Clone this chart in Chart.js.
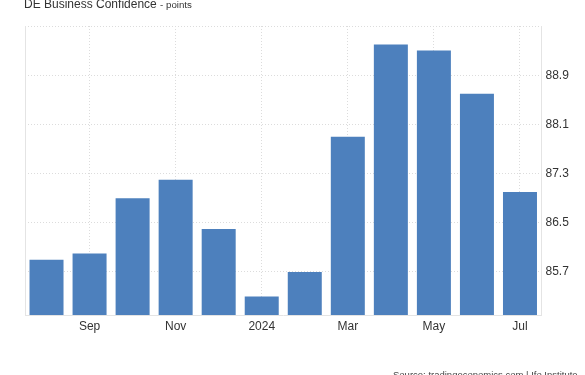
<!DOCTYPE html>
<html>
<head>
<meta charset="utf-8">
<script src="https://cdn.jsdelivr.net/npm/chart.js@4/dist/chart.umd.min.js"></script>
<style>
    html, body { margin: 0; padding: 0; background: #fff; }
    #wrap { position: relative; width: 585px; height: 375px; overflow: hidden; }
    #title {
        position: absolute; left: 24px; top: -3px;
        font-family: "Liberation Sans", Arial, sans-serif;
        font-size: 12px; line-height: 14px; color: #333; white-space: nowrap;
    }
    #title small { font-size: 9.7px; }
    #source {
        position: absolute; left: 393px; top: 369px;
        font-family: "Liberation Sans", Arial, sans-serif;
        font-size: 9.5px; line-height: 11px; color: #444; white-space: nowrap;
    }
    canvas { position: absolute; left: 0; top: 0; }
</style>
</head>
<body>
<div id="wrap">
    <canvas id="chart" width="585" height="375"></canvas>
    <div id="title">DE Business Confidence <small>- points</small></div>
    <div id="source">Source: tradingeconomics.com | Ifo Institute</div>
</div>
<script>
// Monthly readings, Aug 2023 - Jul 2024
const months = ['Aug', 'Sep', 'Oct', 'Nov', 'Dec', 'Jan', 'Feb', 'Mar', 'Apr', 'May', 'Jun', 'Jul'];
const xTickLabels = ['', 'Sep', '', 'Nov', '', '2024', '', 'Mar', '', 'May', '', 'Jul'];
const confidence = [85.9, 86.0, 86.9, 87.2, 86.4, 85.3, 85.7, 87.9, 89.4, 89.3, 88.6, 87.0];
const yTicks = [85.7, 86.5, 87.3, 88.1, 88.9];
const yMin = 85.0;
const yMax = 89.7;

const GRID = '#dcdcdc';
const FONT = { family: '"Liberation Sans", Arial, sans-serif', size: 12 };

// left edge of the plot frame
const leftEdge = {
    id: 'leftEdge',
    beforeDatasetsDraw(chart) {
        const a = chart.chartArea;
        const ctx = chart.ctx;
        ctx.save();
        ctx.strokeStyle = '#e4e4e4';
        ctx.lineWidth = 1;
        ctx.beginPath();
        ctx.moveTo(Math.round(a.left) + 0.5, a.top);
        ctx.lineTo(Math.round(a.left) + 0.5, a.bottom);
        ctx.stroke();
        ctx.restore();
    }
};

new Chart(document.getElementById('chart'), {
    type: 'bar',
    data: {
        labels: months,
        datasets: [{
            data: confidence,
            backgroundColor: '#4d80bd',
            borderWidth: 0,
            categoryPercentage: 1,
            barPercentage: 0.79
        }]
    },
    options: {
        responsive: false,
        animation: false,
        layout: { padding: { top: 26, left: 25, right: 0, bottom: 0 } },
        plugins: { legend: { display: false }, tooltip: { enabled: false } },
        scales: {
            x: {
                grid: {
                    offset: false,
                    drawTicks: false,
                    color: ctx => xTickLabels[ctx.index] ? GRID : 'rgba(0,0,0,0)'
                },
                border: { color: '#e4e4e4', dash: [1, 2] },
                ticks: {
                    autoSkip: false,
                    maxRotation: 0,
                    padding: 4,
                    color: '#333',
                    font: FONT,
                    callback: (v, i) => xTickLabels[i]
                },
                afterFit: s => { s.height = 60; }
            },
            y: {
                position: 'right',
                min: yMin,
                max: yMax,
                afterBuildTicks: s => {
                    s.ticks = yTicks.map(v => ({ value: v })).concat([{ value: yMax }]);
                },
                grid: { drawTicks: false, color: GRID },
                border: { color: '#e4e4e4', dash: [1, 2] },
                ticks: {
                    padding: 4,
                    color: '#333',
                    font: FONT,
                    callback: v => yTicks.includes(v) ? v.toFixed(1) : ''
                },
                afterFit: s => { s.width = 43.5; }
            }
        }
    },
    plugins: [leftEdge]
});
</script>
</body>
</html>
